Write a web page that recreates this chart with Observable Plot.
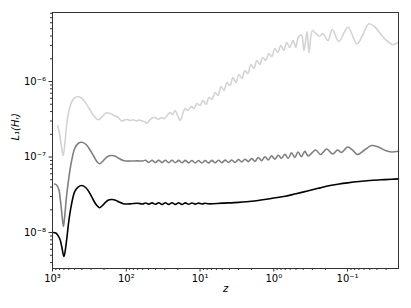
<!DOCTYPE html>
<html><head><meta charset="utf-8">
<script src="https://cdn.jsdelivr.net/npm/d3@7"></script>
<script src="https://cdn.jsdelivr.net/npm/@observablehq/plot@0.6"></script>
<style>
html,body{margin:0;padding:0;background:#fff;}
</style>
</head><body>
<div id="chart"></div>
<script>
// ---- data ----
const zBlack = [
  1000, 900, 800, 750, 700, 650, 600, 550, 500, 450,
  400, 350, 300, 270, 250, 230, 210, 190, 170, 155,
  140, 125, 110, 100, 85, 70, 60, 54.95, 49.5, 44.7,
  40.3, 36.3, 32.7, 29.5, 26.6, 24.0, 21.6, 19.5, 17.6, 15.8,
  14.3, 12.9, 11.6, 10.5, 9.44, 8.51, 7.67, 5, 3, 2,
  1.5, 1, 0.7, 0.5, 0.35, 0.25, 0.18, 0.13, 0.1, 0.07,
  0.05, 0.035, 0.025, 0.0204
];
const lBlack = [
  1.00e-8, 9.85e-9, 8.33e-9, 6.53e-9, 4.81e-9, 7.37e-9, 1.44e-8, 2.42e-8, 3.49e-8, 4.005e-8,
  4.19e-8, 3.89e-8, 3.09e-8, 2.535e-8, 2.28e-8, 2.125e-8, 2.28e-8, 2.535e-8, 2.71e-8, 2.735e-8,
  2.68e-8, 2.535e-8, 2.41e-8, 2.385e-8, 2.41e-8, 2.44e-8, 2.39e-8, 2.46e-8, 2.38e-8, 2.47e-8,
  2.37e-8, 2.48e-8, 2.36e-8, 2.48e-8, 2.36e-8, 2.48e-8, 2.36e-8, 2.48e-8, 2.36e-8, 2.47e-8,
  2.37e-8, 2.46e-8, 2.38e-8, 2.45e-8, 2.39e-8, 2.44e-8, 2.40e-8, 2.45e-8, 2.51e-8, 2.59e-8,
  2.695e-8, 2.86e-8, 3.02e-8, 3.265e-8, 3.545e-8, 3.85e-8, 4.155e-8, 4.39e-8, 4.55e-8, 4.74e-8,
  4.885e-8, 4.99e-8, 5.08e-8, 5.14e-8
];

const zGray = [
  940, 880, 820, 780, 740, 710, 680, 650, 600, 550,
  500, 450, 400, 350, 300, 270, 250, 230, 210, 190,
  170, 155, 140, 125, 110, 100, 85, 70, 60,
  54.95, 49.5, 44.7, 40.3, 36.3, 32.7, 29.5, 26.6, 24.0, 21.6,
  19.5, 17.6, 15.8, 14.3, 12.9, 11.6, 10.5, 9.44, 8.51, 7.67,
  6.92, 6.24, 5.62, 5.07, 4.57, 4.12, 3.72, 3.35, 3.02, 2.72,
  2.455, 2.21, 1.995, 1.80, 1.622, 1.462, 1.318, 1.189, 1.072, 0.966,
  0.871, 0.785, 0.708, 0.638, 0.575, 0.519, 0.468, 0.422, 0.380, 0.343,
  0.2706, 0.2317, 0.1922, 0.1595, 0.1365, 0.1206, 0.1, 0.0856, 0.0733, 0.0589,
  0.0474, 0.0381, 0.0307, 0.0254, 0.0204
];
const lGray = [
  4.39e-8, 4.26e-8, 3.71e-8, 2.65e-8, 1.63e-8, 1.20e-8, 1.73e-8, 2.82e-8, 5.35e-8, 8.99e-8,
  1.296e-7, 1.51e-7, 1.57e-7, 1.464e-7, 1.18e-7, 9.85e-8, 8.72e-8, 8.13e-8, 8.72e-8, 9.70e-8,
  1.037e-7, 1.047e-7, 1.022e-7, 9.55e-8, 8.99e-8, 8.85e-8, 8.85e-8, 8.89e-8, 8.85e-8,
  9.05e-8, 8.50e-8, 9.08e-8, 8.46e-8, 9.08e-8, 8.44e-8, 9.06e-8, 8.42e-8, 9.05e-8, 8.40e-8,
  9.03e-8, 8.39e-8, 9.02e-8, 8.37e-8, 9.00e-8, 8.35e-8, 9.00e-8, 8.35e-8, 9.00e-8, 8.36e-8,
  9.02e-8, 8.38e-8, 9.05e-8, 8.42e-8, 9.10e-8, 8.48e-8, 9.13e-8, 8.45e-8, 9.26e-8, 8.60e-8,
  9.36e-8, 8.70e-8, 9.52e-8, 8.75e-8, 9.87e-8, 8.95e-8, 1.008e-7, 9.16e-8, 1.035e-7, 9.38e-8,
  1.056e-7, 9.63e-8, 1.088e-7, 9.64e-8, 1.134e-7, 9.90e-8, 1.166e-7, 1.010e-7, 1.188e-7, 1.035e-7,
  1.238e-7, 1.079e-7, 1.276e-7, 1.096e-7, 1.238e-7, 1.147e-7, 1.357e-7, 1.238e-7, 1.079e-7, 1.238e-7,
  1.42e-7, 1.357e-7, 1.219e-7, 1.165e-7, 1.193e-7
];

const zLight = [
  848, 804, 756, 717, 678, 637, 589, 537, 464, 406,
  358, 307, 271, 237, 211, 192, 179, 159.5, 145.3, 132.3,
  122.4, 114.3, 106.4, 96.9, 88.3, 80.4, 73.3, 66.7, 60.8, 55.4,
  52.5, 48.9, 44.5, 40.6, 36.9, 33.65, 30.66, 27.92, 25.43, 23.52,
  21.76, 20.14, 18.63, 17.24, 15.95, 14.53, 13.23, 12.05, 10.98, 10.0,
  9.11, 8.30, 7.56, 6.88, 6.27, 5.71, 5.20, 4.74, 4.32, 3.93,
  3.58, 3.26, 2.97, 2.71, 2.466, 2.246, 2.046, 1.864, 1.697, 1.546,
  1.408, 1.283, 1.168, 1.064, 0.969, 0.883, 0.804, 0.733, 0.667, 0.608,
  0.548, 0.504, 0.4665, 0.4223, 0.3895, 0.3548, 0.3334, 0.2999, 0.2706, 0.2390,
  0.2157, 0.1846, 0.1610, 0.1311, 0.0991, 0.0749, 0.0627, 0.0516, 0.0432, 0.0369,
  0.0316, 0.0285, 0.0244, 0.0204
];
const lLight = [
  2.613e-7, 2.048e-7, 1.378e-7, 1.047e-7, 1.556e-7, 2.864e-7, 4.39e-7, 5.60e-7, 6.33e-7, 6.05e-7,
  5.27e-7, 4.13e-7, 3.44e-7, 3.11e-7, 3.44e-7, 3.77e-7, 3.85e-7, 3.71e-7, 3.545e-7, 3.39e-7,
  3.185e-7, 2.98e-7, 3.09e-7, 3.14e-7, 3.04e-7, 3.11e-7, 3.00e-7, 3.09e-7, 3.00e-7, 2.91e-7,
  2.80e-7, 3.04e-7, 3.285e-7, 3.335e-7, 3.14e-7, 3.335e-7, 3.21e-7, 3.545e-7, 3.885e-7, 3.655e-7,
  4.13e-7, 3.545e-7, 3.04e-7, 3.655e-7, 4.39e-7, 4.13e-7, 4.67e-7, 4.39e-7, 5.11e-7, 4.81e-7,
  5.60e-7, 4.96e-7, 6.14e-7, 5.78e-7, 7.15e-7, 6.53e-7, 8.59e-7, 7.60e-7, 9.70e-7, 8.85e-7,
  1.130e-6, 9.70e-7, 1.238e-6, 1.096e-6, 1.399e-6, 1.276e-6, 1.680e-6, 1.486e-6, 1.897e-6, 1.680e-6,
  2.079e-6, 1.897e-6, 2.349e-6, 2.144e-6, 2.735e-6, 2.422e-6, 2.998e-6, 2.574e-6, 3.285e-6, 2.82e-6,
  3.49e-6, 2.82e-6, 3.826e-6, 4.155e-6, 2.574e-6, 4.596e-6, 2.399e-6, 4.738e-6, 4.323e-6, 3.981e-6,
  4.283e-6, 3.49e-6, 4.884e-6, 3.387e-6, 5.24e-6, 3.157e-6, 4.067e-6, 5.81e-6, 5.35e-6, 4.457e-6,
  3.71e-6, 3.387e-6, 3.063e-6, 3.315e-6
];

const xTicks = [1000, 100, 10, 1, 0.1];
const xTickLabels = ["10³", "10²", "10¹", "10⁰", "10⁻¹"];
const xMinorTicks = [
  900, 800, 700, 600, 500, 400, 300, 200,
  90, 80, 70, 60, 50, 40, 30, 20,
  9, 8, 7, 6, 5, 4, 3, 2,
  0.9, 0.8, 0.7, 0.6, 0.5, 0.4, 0.3, 0.2,
  0.09, 0.08, 0.07, 0.06, 0.05, 0.04, 0.03
];
const yTicks = [1e-8, 1e-7, 1e-6];
const yTickLabels = ["10⁻⁸", "10⁻⁷", "10⁻⁶"];
const yMinorTicks = [
  4e-9, 5e-9, 6e-9, 7e-9, 8e-9, 9e-9,
  2e-8, 3e-8, 4e-8, 5e-8, 6e-8, 7e-8, 8e-8, 9e-8,
  2e-7, 3e-7, 4e-7, 5e-7, 6e-7, 7e-7, 8e-7, 9e-7,
  2e-6, 3e-6, 4e-6, 5e-6, 6e-6, 7e-6, 8e-6
];
const xLabel = "z";
const yLabel = "L₁(Hᵣ)";

// ---- build rows ----
const rows = (zs, ls) => zs.slice(0, Math.min(zs.length, ls.length)).map((z, i) => ({z, L: ls[i]}));
const black = rows(zBlack, lBlack);
const gray = rows(zGray, lGray);
const light = rows(zLight, lLight);

const lineOpts = {x: "z", y: "L", strokeWidth: 1.6, curve: "catmull-rom"};
const axisColor = "#333";

const chart = Plot.plot({
  width: 411,
  height: 308,
  marginLeft: 52,
  marginRight: 13,
  marginTop: 12,
  marginBottom: 40,
  style: {fontFamily: "'DejaVu Sans', sans-serif", fontSize: "10px", color: "#000", background: "#fff"},
  x: {type: "log", domain: [1000, 0.0204]},
  y: {type: "log", domain: [3.34e-9, 8.2e-6]},
  marks: [
    Plot.line(light, {...lineOpts, stroke: "#d3d3d3"}),
    Plot.line(gray, {...lineOpts, stroke: "#808080"}),
    Plot.line(black, {...lineOpts, stroke: "#000"}),
    Plot.axisX(xMinorTicks, {tickSize: 2, tickFormat: () => "", stroke: axisColor, label: null}),
    Plot.axisX(xTicks, {tickSize: 3.5, tickPadding: 3, stroke: axisColor, fill: "#000", fontSize: 10,
      tickFormat: d => xTickLabels[xTicks.indexOf(d)], label: null}),
    Plot.axisY(yMinorTicks, {tickSize: 2, tickFormat: () => "", stroke: axisColor, label: null}),
    Plot.axisY(yTicks, {tickSize: 3.5, tickPadding: 3, stroke: axisColor, fill: "#000", fontSize: 10,
      tickFormat: d => yTickLabels[yTicks.indexOf(d)], label: null}),
    Plot.frame({stroke: axisColor, strokeWidth: 1}),
    Plot.text([xLabel], {frameAnchor: "bottom", dy: 23, text: d => d, fontStyle: "italic", fontSize: 10, fill: "#000"}),
    Plot.text([yLabel], {frameAnchor: "left", dx: -37, rotate: -90, text: d => d, fontStyle: "italic", fontSize: 10, fill: "#000"})
  ]
});
document.getElementById("chart").appendChild(chart);
</script>
</body></html>
